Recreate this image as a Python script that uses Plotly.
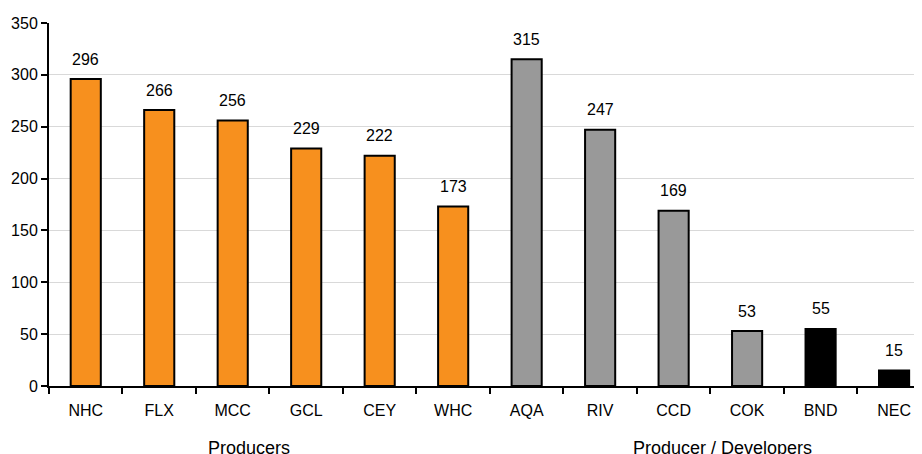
import plotly.graph_objects as go

categories = ["NHC", "FLX", "MCC", "GCL", "CEY", "WHC", "AQA", "RIV", "CCD", "COK", "BND", "NEC"]
values = [296, 266, 256, 229, 222, 173, 315, 247, 169, 53, 55, 15]
groups = ["Producers"] * 6 + ["Producer / Developers"] * 4 + ["Other"] * 2
group_colors = {"Producers": "#F7901E", "Producer / Developers": "#999999", "Other": "#000000"}
group_labels = ["Producers", "Producer / Developers"]
group_label_pos = [2.22, 8.66]

FONT = "Liberation Sans, Arial, sans-serif"

fig = go.Figure()
fig.add_trace(go.Bar(
    x=categories, y=values,
    marker=dict(color=[group_colors[g] for g in groups], line=dict(color="#000000", width=2)),
    width=0.41,
    hoverinfo="x+y",
))

for c, v in zip(categories, values):
    fig.add_annotation(x=c, y=v, text=str(v), showarrow=False, xref="x", yref="y",
                       yanchor="middle", yshift=20, font=dict(family=FONT, size=16, color="#000"))

for lab, pos in zip(group_labels, group_label_pos):
    fig.add_annotation(x=pos, y=-0.17, xref="x", yref="paper", text=lab, showarrow=False,
                       yanchor="middle", xanchor="center", font=dict(family=FONT, size=18, color="#000"))

fig.update_layout(
    width=914, height=446, autosize=False,
    margin=dict(l=41, r=0, t=15, b=68),
    plot_bgcolor="white", paper_bgcolor="white",
    showlegend=False,
    font=dict(family=FONT, size=16, color="#000"),
    xaxis=dict(
        type="category", range=[-0.5, 11.38],
        showline=True, linecolor="#000", linewidth=2,
        ticks="outside", tickson="boundaries", ticklen=6, tickwidth=2, tickcolor="#000",
        ticklabelstandoff=9,
        showgrid=False, tickfont=dict(family=FONT, size=16, color="#000"),
    ),
    yaxis=dict(
        range=[0, 350], tickvals=[0, 50, 100, 150, 200, 250, 300, 350],
        showline=True, linecolor="#000", linewidth=2,
        ticks="outside", ticklen=6, tickwidth=2, tickcolor="#000",
        showgrid=True, gridcolor="#D9D9D9", gridwidth=1,
        zeroline=False, tickfont=dict(family=FONT, size=16, color="#000"),
    ),
)

fig.write_html("out.html")
